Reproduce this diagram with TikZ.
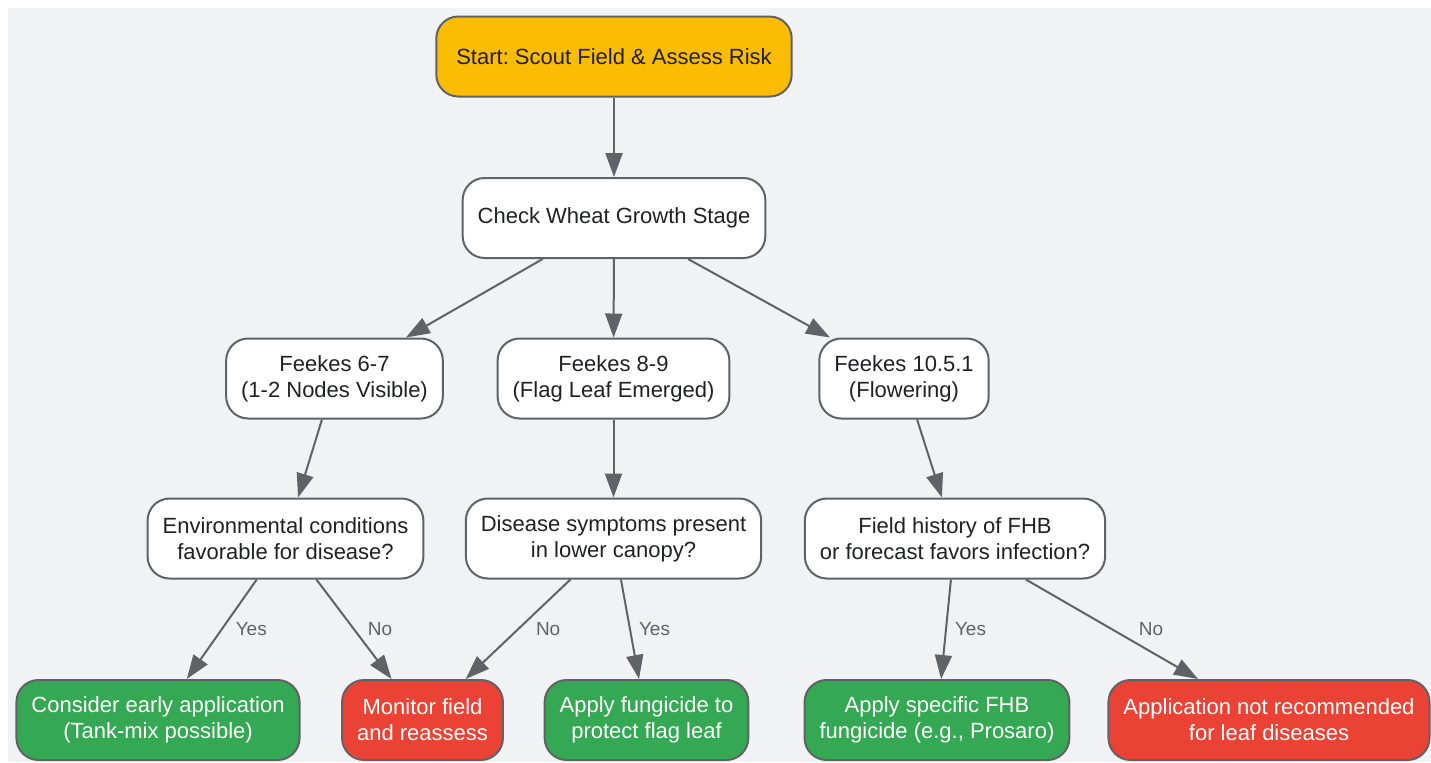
\documentclass[tikz,border=0pt]{standalone}
\usepackage{fontspec}
\setmainfont{Liberation Sans}
\usetikzlibrary{arrows.meta}
\frenchspacing

\definecolor{bgGray}{HTML}{F1F2F4}
\definecolor{edgeGray}{HTML}{5F6368}
\definecolor{textDark}{HTML}{202124}
\definecolor{startYellow}{HTML}{FBBC04}
\definecolor{goGreen}{HTML}{34A853}
\definecolor{stopRed}{HTML}{EA4335}

\tikzset{
	stepBox/.style={rectangle, draw=edgeGray, line width=1pt, fill=white, rounded corners=11pt, minimum height=40pt, inner xsep=7.5pt, align=center, text=textDark, font=\fontsize{11}{13}\selectfont},
	startBox/.style={stepBox, fill=startYellow, inner xsep=10pt},
	yesBox/.style={stepBox, fill=goGreen, text=white},
	noBox/.style={stepBox, fill=stopRed, text=white},
	flowArrow/.style={draw=edgeGray, line width=1pt, -{Triangle[length=12pt, width=8.5pt]}},
	edgeLabel/.style={text=edgeGray, font=\fontsize{9.5}{11}\selectfont, anchor=west, inner sep=0pt}
}

\begin{document}
\begin{tikzpicture}[x=0.5pt, y=-0.5pt]
	\useasboundingbox (0,0) rectangle (1431,762);
	\fill[bgGray] (8,8) rectangle (1431,762);

	% top of the chart
	\node[startBox](scoutStart) at (614,56.5){Start: Scout Field \& Assess Risk};
	\node[stepBox](growthStage) at (614,218){Check Wheat Growth Stage};

	% growth stage boxes
	\node[stepBox](feekesSix) at (334.5,378.5){Feekes 6-7\\(1-2 Nodes Visible)};
	\node[stepBox](feekesEight) at (613.5,378.5){Feekes 8-9\\(Flag Leaf Emerged)};
	\node[stepBox](feekesTen) at (904,378.5){Feekes 10.5.1\\(Flowering)};

	% question boxes
	\node[stepBox](envCond) at (285.5,538.5){Environmental conditions\\favorable for disease?};
	\node[stepBox](lowerCanopy) at (613.5,538.5){Disease symptoms present\\in lower canopy?};
	\node[stepBox](fhbHistory) at (955,538.5){Field history of FHB\\or forecast favors infection?};

	% decision boxes
	\node[yesBox](earlyApp) at (158,720){Consider early application\\(Tank-mix possible)};
	\node[noBox](monitorField) at (422.5,720){Monitor field\\and reassess};
	\node[yesBox](flagLeaf) at (646.5,720){Apply fungicide to\\protect flag leaf};
	\node[yesBox](fhbFungicide) at (937,720){Apply specific FHB\\fungicide (e.g., Prosaro)};
	\node[noBox](notRecommended) at (1269,720){Application not recommended\\for leaf diseases};

	% arrows
	\draw[flowArrow] (scoutStart) -- (growthStage);
	\draw[flowArrow] (growthStage) -- (feekesSix);
	\draw[flowArrow] (growthStage) -- (feekesEight);
	\draw[flowArrow] (growthStage) -- (feekesTen);
	\draw[flowArrow] (feekesSix) -- (envCond);
	\draw[flowArrow] (feekesEight) -- (lowerCanopy);
	\draw[flowArrow] (feekesTen) -- (fhbHistory);

	\draw[flowArrow] (envCond) -- node[edgeLabel, pos=.5, xshift=6.5pt]{Yes} (earlyApp);
	\draw[flowArrow] (envCond) -- node[edgeLabel, pos=.5, xshift=6.5pt]{No} (monitorField);
	\draw[flowArrow] (lowerCanopy) -- node[edgeLabel, pos=.5, xshift=8.5pt]{No} (monitorField);
	\draw[flowArrow] (lowerCanopy) -- node[edgeLabel, pos=.5, xshift=4pt]{Yes} (flagLeaf);
	\draw[flowArrow] (fhbHistory) -- node[edgeLabel, pos=.5, xshift=4pt]{Yes} (fhbFungicide);
	\draw[flowArrow] (fhbHistory) -- node[edgeLabel, pos=.5, xshift=13pt]{No} (notRecommended);
\end{tikzpicture}
\end{document}
